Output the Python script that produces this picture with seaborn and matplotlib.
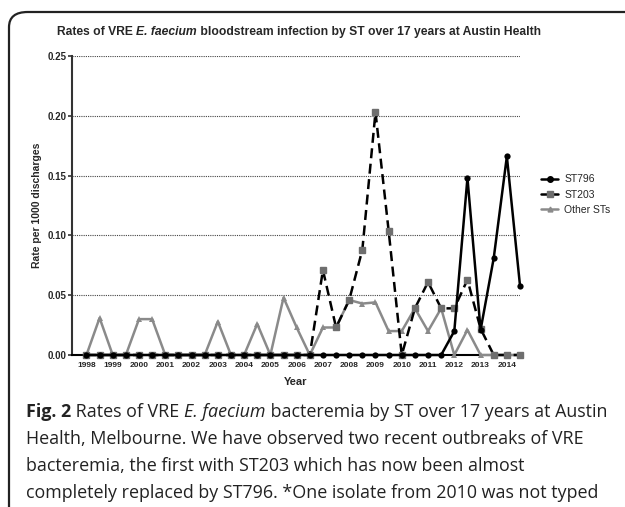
import numpy as np
import pandas as pd
import matplotlib.pyplot as plt
import seaborn as sns
from matplotlib.patches import FancyBboxPatch
from matplotlib.lines import Line2D

# half-year time points, 1998 .. 2014.5
years = [1998 + 0.5 * i for i in range(34)]

st796 = [0] * 28 + [0.020, 0.148, 0.021, 0.081, 0.166, 0.058]

st203 = [0] * 18 + [0.071, 0.023, 0.046, 0.088, 0.203, 0.104, 0.0,
                    0.039, 0.061, 0.039, 0.039, 0.063, 0.022, 0.0, 0.0, 0.0]

other_sts = [0.0, 0.031, 0.0, 0.0, 0.030, 0.030, 0.0, 0.0, 0.0, 0.0,
             0.028, 0.0, 0.0, 0.026, 0.0, 0.048, 0.023, 0.0,
             0.023, 0.023, 0.046, 0.043, 0.044, 0.020, 0.020,
             0.039, 0.020, 0.039, 0.0, 0.021, 0.0, 0.0, 0.0, 0.0]

year_ticks = list(range(1998, 2015))
series_names = ["ST796", "ST203", "Other STs"]

df = pd.DataFrame({"year": years, "ST796": st796, "ST203": st203, "Other STs": other_sts})

sns.set_theme(style="white")
plt.rcParams["font.family"] = ["Liberation Sans", "DejaVu Sans"]

fig = plt.figure(figsize=(6.25, 5.07), dpi=100)
ax = fig.add_axes([72 / 625, 1 - 355 / 507, 448 / 625, 299 / 507])
renderer = fig.canvas.get_renderer()


def run_text(x_px, y_px, pieces, **kw):
    # draw a line of text made of differently styled pieces, left to right
    x = x_px
    for s, style in pieces:
        t = fig.text(x / 625, 1 - y_px / 507, s, ha="left", va="center", **kw, **style)
        x += t.get_window_extent(renderer).width
    return x


# outer rounded frame
frame = FancyBboxPatch((9 / 625, -0.05), 1.2, 1 - 12 / 507 + 0.05,
                       boxstyle="round,pad=0,rounding_size=0.03",
                       transform=fig.transFigure, fill=False,
                       edgecolor="#222222", linewidth=1.6, clip_on=False)
fig.patches.append(frame)

sns.lineplot(data=df, x="year", y="Other STs", ax=ax, color="#8a8a8a", linewidth=1.8,
             marker="^", markersize=4, markeredgewidth=0, clip_on=False, zorder=3)
sns.lineplot(data=df, x="year", y="ST203", ax=ax, color="black", linewidth=1.8,
             linestyle=(0, (4, 2.2)), clip_on=False, zorder=4)
ax.plot(df["year"], df["ST203"], linestyle="none", marker="s", markersize=4.5,
        color="#6e6e6e", clip_on=False, zorder=5)
sns.lineplot(data=df, x="year", y="ST796", ax=ax, color="black", linewidth=1.8,
             marker="o", markersize=4.5, markeredgewidth=0, clip_on=False, zorder=6)

ax.set_xlim(1997.45, 2014.5)
ax.set_ylim(0, 0.25)
ax.set_yticks([0, 0.05, 0.10, 0.15, 0.20, 0.25])
ax.set_yticklabels(["0.00", "0.05", "0.10", "0.15", "0.20", "0.25"],
                   fontsize=7, fontweight="bold")
ax.set_xticks(year_ticks)
ax.set_xticklabels([str(y) for y in year_ticks], fontsize=6, fontweight="bold")
ax.tick_params(axis="y", length=3, width=1.2, color="#333333", pad=1, left=True)
ax.tick_params(axis="x", length=0, pad=5)
ax.yaxis.grid(True, linestyle=(0, (1, 1)), color="#444444", linewidth=0.8)
ax.xaxis.grid(False)
sns.despine(ax=ax)
ax.spines["left"].set_color("#333333")
ax.spines["left"].set_linewidth(1.5)
ax.spines["bottom"].set_color("black")
ax.spines["bottom"].set_linewidth(1.5)

ax.set_xlabel("Year", fontsize=8, fontweight="bold", labelpad=6)
ax.set_ylabel("Rate per 1000 discharges", fontsize=7.5, fontweight="bold", labelpad=4)

run_text(57, 32, [("Rates of VRE ", {"fontweight": "bold"}),
                  ("E. faecium", {"fontweight": "bold", "fontstyle": "italic"}),
                  (" bloodstream infection by ST over 17 years at Austin Health", {"fontweight": "bold"})],
         fontsize=8.75)

handles = [
    Line2D([], [], color="black", linewidth=1.8, marker="o", markersize=4),
    Line2D([], [], color="black", linewidth=1.8, marker="s", markersize=4,
           markerfacecolor="#6e6e6e", markeredgecolor="#6e6e6e"),
    Line2D([], [], color="#8a8a8a", linewidth=1.8, marker="^", markersize=3.5),
]
fig.legend(handles, series_names, loc="upper left", bbox_to_anchor=(532 / 625, 1 - 165 / 507),
           frameon=False, fontsize=7.5, handlelength=1.6, handletextpad=0.6, labelspacing=0.5)

cap_font = ["Open Sans", "DejaVu Sans"]
cap_kw = {"fontsize": 12.9, "family": cap_font, "color": "#222222"}
run_text(26, 412, [("Fig. 2", {"fontweight": "bold"}),
                   (" Rates of VRE ", {}),
                   ("E. faecium", {"fontstyle": "italic"}),
                   (" bacteremia by ST over 17 years at Austin", {})], **cap_kw)
caption_rest = [
    "Health, Melbourne. We have observed two recent outbreaks of VRE",
    "bacteremia, the first with ST203 which has now been almost",
    "completely replaced by ST796. *One isolate from 2010 was not typed",
]
for i, line in enumerate(caption_rest):
    run_text(26, 439 + 27 * i, [(line, {})], **cap_kw)

fig.savefig("out.png", dpi=100)
